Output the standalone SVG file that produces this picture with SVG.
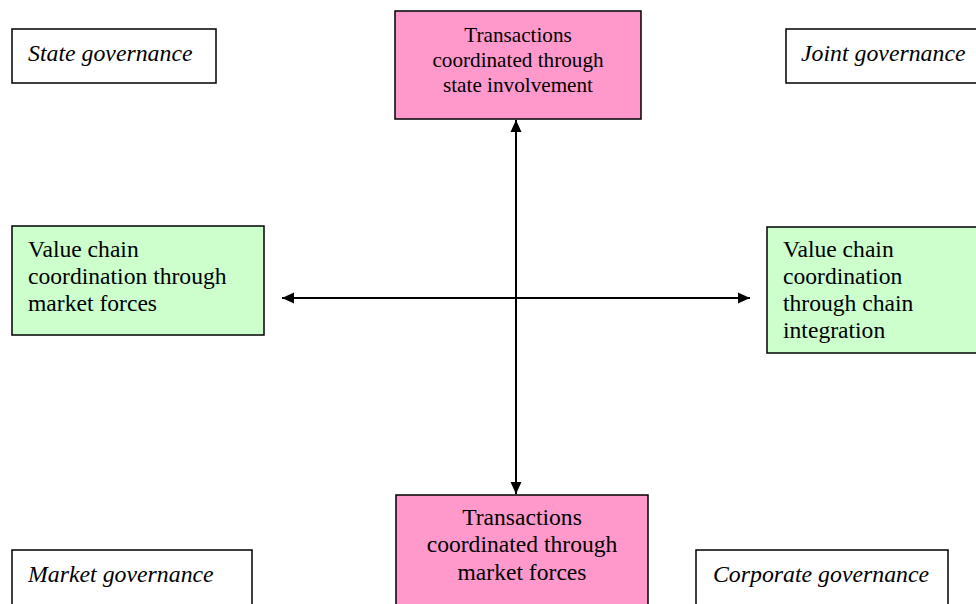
<svg xmlns="http://www.w3.org/2000/svg" width="976" height="604" viewBox="0 0 976 604">
<style>
.box{stroke:#000;stroke-width:1.5}
.w{fill:#fff}.p{fill:#ff99cc}.g{fill:#ccffcc}
.it{font-style:italic;font-size:23.8px}
.t{font-size:23.6px}
.c{text-anchor:middle}
.ln{stroke:#000;stroke-width:2;fill:none}
</style>
<defs>
<marker id="ah" viewBox="0 0 12 12" refX="12" refY="6" markerWidth="12" markerHeight="12" markerUnits="userSpaceOnUse" orient="auto-start-reverse">
<path d="M0,0.5 L12,6 L0,11.5 Z" fill="#000"/>
</marker>
</defs>
<rect width="976" height="604" fill="#fff"/>
<g id="connectors">
<line class="ln" x1="516" y1="120" x2="516" y2="494" marker-start="url(#ah)" marker-end="url(#ah)"/>
<line class="ln" x1="282" y1="298" x2="750" y2="298" marker-start="url(#ah)" marker-end="url(#ah)"/>
</g>
<g font-family="Liberation Serif, 'Times New Roman', serif" fill="#000">
<g id="state-governance">
<rect class="box w" x="12" y="29" width="204" height="54"/>
<text class="it" x="28" y="61">State governance</text>
</g>
<g id="joint-governance">
<rect class="box w" x="786" y="29" width="200" height="54"/>
<text class="it" x="801" y="61">Joint governance</text>
</g>
<g id="state-involvement">
<rect class="box p" x="395" y="11" width="246" height="108"/>
<text class="c" x="518" y="42" font-size="21.2">Transactions</text>
<text class="c" x="518" y="67" font-size="21.2">coordinated through</text>
<text class="c" x="518" y="92" font-size="21.2">state involvement</text>
</g>
<g id="market-forces-chain">
<rect class="box g" x="12" y="226" width="252" height="109"/>
<text class="t" x="28" y="257">Value chain</text>
<text class="t" x="28" y="284">coordination through</text>
<text class="t" x="28" y="311">market forces</text>
</g>
<g id="chain-integration">
<rect class="box g" x="767" y="227" width="220" height="126"/>
<text class="t" x="783" y="257">Value chain</text>
<text class="t" x="783" y="284">coordination</text>
<text class="t" x="783" y="311">through chain</text>
<text class="t" x="783" y="338">integration</text>
</g>
<g id="market-governance">
<rect class="box w" x="12" y="550" width="240" height="60"/>
<text class="it" x="28" y="582">Market governance</text>
</g>
<g id="market-forces-transactions">
<rect class="box p" x="396" y="495" width="252" height="115"/>
<text class="t c" x="522" y="525">Transactions</text>
<text class="t c" x="522" y="552">coordinated through</text>
<text class="t c" x="522" y="580">market forces</text>
</g>
<g id="corporate-governance">
<rect class="box w" x="696" y="550" width="252" height="60"/>
<text class="it" x="713" y="582">Corporate governance</text>
</g>
</g>
</svg>
